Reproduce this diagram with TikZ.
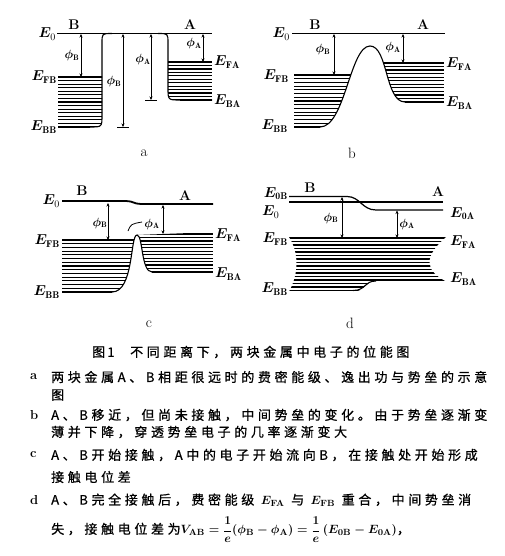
\documentclass[tikz,border=0pt]{standalone}
\usepackage{amsmath,bm}
\usepackage{fontspec}
\newfontfamily\cjk[LetterSpace=28,FakeBold=0.8]{Noto Sans CJK SC}
\usetikzlibrary{arrows.meta}

\begin{document}
\begin{tikzpicture}[x=1pt,y=-1pt,
  >={Stealth[length=3.5pt,width=3pt]},
  lvl/.style={line width=1.2pt},
  wall/.style={line width=1.1pt},
  band/.style={line width=1.2pt},
  phi/.style={<->,line width=0.5pt},
  bar/.style={line width=0.9pt},
  elab/.style={font=\fontsize{14}{16}\selectfont,inner sep=0pt},
  mlab/.style={font=\fontsize{14}{16}\selectfont\bfseries,inner sep=0pt},
  plab/.style={font=\fontsize{12}{14}\selectfont,inner sep=0pt},
  panel/.style={font=\fontsize{15}{17}\selectfont,inner sep=0pt},
  capline/.style={font=\fontsize{13}{16}\selectfont\cjk\boldmath,inner sep=0pt,anchor=west},
  tag/.style={font=\fontsize{13}{16}\selectfont\bfseries,inner sep=0pt,anchor=west}
]
\useasboundingbox (0,0) rectangle (505,556);

%% panel a: far apart
\draw[lvl] (57,33.5) -- (212,33.5);
\begin{scope}
  \clip (55,74) -- (102,74) -- (102,115) .. controls (102,127) .. (90,127) -- (90,129) -- (55,129) -- cycle;
  \foreach \i in {0,...,14} \draw[band] (58,{77+\i*50/14}) -- (105,{77+\i*50/14});
\end{scope}
\begin{scope}
  \clip (168,59) -- (168,88) .. controls (168,100) .. (180,100) -- (180,102) -- (214,102) -- (214,59) -- cycle;
  \foreach \i in {0,...,11} \draw[band] (166,{62+\i*38/11}) -- (212,{62+\i*38/11});
\end{scope}
\draw[wall] (112,33.5) .. controls (102,33.5) .. (102,43) -- (102,115) .. controls (102,127) .. (90,127);
\draw[wall] (158,33.5) .. controls (168,33.5) .. (168,43) -- (168,88) .. controls (168,100) .. (180,100) -- (212,100);
\draw[phi] (81,34) -- (81,77);
\draw[phi] (123,34) -- (123,127);
\draw[bar] (117,127) -- (129,127);
\draw[phi] (151,34) -- (151,100);
\draw[bar] (145,100) -- (157,100);
\draw[phi] (203,34) -- (203,62);
\node[elab,anchor=east] (Ea0) at (56,34) {$\bm{E}_0$};
\node[mlab] (Ba) at (74,25) {B};
\node[mlab] (Aa) at (190,25) {A};
\node[elab,anchor=east] (EaFB) at (57,77) {$\bm{E}_{\mathbf{FB}}$};
\node[elab,anchor=east] (EaBB) at (57,127) {$\bm{E}_{\mathbf{BB}}$};
\node[elab,anchor=west] (EaFA) at (214,62) {$\bm{E}_{\mathbf{FA}}$};
\node[elab,anchor=west] (EaBA) at (214,101) {$\bm{E}_{\mathbf{BA}}$};
\node[plab] (phaB) at (72,56) {$\bm{\phi}_{\mathbf{B}}$};
\node[plab] (phaBm) at (114,82) {$\bm{\phi}_{\mathbf{B}}$};
\node[plab] (phaAm) at (143,60) {$\bm{\phi}_{\mathbf{A}}$};
\node[plab] (phaA) at (194,44) {$\bm{\phi}_{\mathbf{A}}$};
\node[panel] (pa) at (144,153) {a};

%% panel b: moving closer
\draw[lvl] (292,33.5) -- (445,33.5);
\begin{scope}
  \clip (290,129) -- (320,129) -- (320,127) .. controls (345,127) and (350,46) .. (370,46) -- (290,46) -- cycle;
  \foreach \i in {0,...,14} \draw[band] (294,{75+\i*52/14}) -- (375,{75+\i*52/14});
\end{scope}
\begin{scope}
  \clip (370,46) .. controls (388,46) and (385,102) .. (405,102) -- (405,104) -- (450,104) -- (450,46) -- cycle;
  \foreach \i in {0,...,11} \draw[band] (372,{63+\i*39/11}) -- (444,{63+\i*39/11});
\end{scope}
\draw[wall] (320,127) .. controls (345,127) and (350,46) .. (370,46) .. controls (388,46) and (385,102) .. (405,102);
\draw[phi] (334,34) -- (334,75);
\draw[phi] (403,34) -- (403,63);
\node[elab,anchor=east] (Eb0) at (290,34) {$\bm{E}_0$};
\node[mlab] (Bb) at (315,25) {B};
\node[mlab] (Ab) at (423,25) {A};
\node[elab,anchor=east] (EbFB) at (289,76) {$\bm{E}_{\mathbf{FB}}$};
\node[elab,anchor=east] (EbBB) at (288,126) {$\bm{E}_{\mathbf{BB}}$};
\node[elab,anchor=west] (EbFA) at (446,64) {$\bm{E}_{\mathbf{FA}}$};
\node[elab,anchor=west] (EbBA) at (446,103) {$\bm{E}_{\mathbf{BA}}$};
\node[plab] (phbB) at (323,50) {$\bm{\phi}_{\mathbf{B}}$};
\node[plab] (phbA) at (393,48) {$\bm{\phi}_{\mathbf{A}}$};
\node[panel] (pb) at (352,153) {b};

%% panel c: first contact
\draw[lvl,line width=1.8pt] (62,201) -- (126,201) .. controls (133,201) and (134,204) .. (141,204) -- (213,204);
\begin{scope}
  \clip (60,294) -- (112,294) -- (112,292) .. controls (134,292) and (130,235) .. (137,235) -- (60,235) -- cycle;
  \foreach \i in {0,...,14} \draw[band] (62,{240+\i*52/14}) -- (140,{240+\i*52/14});
\end{scope}
\begin{scope}
  \clip (137,235) .. controls (143,235) and (141,272) .. (152,272) -- (152,274) -- (216,274) -- (216,232) -- cycle;
  \foreach \i in {0,...,11} \draw[band] (137,{234+\i*38/11}) -- (213,{234+\i*38/11});
\end{scope}
\draw[wall] (112,292) .. controls (134,292) and (130,235) .. (137,235) .. controls (143,235) and (141,272) .. (152,272);
\draw[line width=0.8pt] (128,231) .. controls (131,224) .. (142,222);
\draw[phi] (108,203) -- (108,240);
\draw[phi] (163,205) -- (163,234);
\node[elab,anchor=east] (Ec0) at (60,201) {$\bm{E}_0$};
\node[mlab] (Bc) at (82,191) {B};
\node[mlab] (Ac) at (185,196) {A};
\node[elab,anchor=east] (EcFB) at (60,241) {$\bm{E}_{\mathbf{FB}}$};
\node[elab,anchor=east] (EcBB) at (60,292) {$\bm{E}_{\mathbf{BB}}$};
\node[elab,anchor=west] (EcFA) at (215,235) {$\bm{E}_{\mathbf{FA}}$};
\node[elab,anchor=west] (EcBA) at (215,274) {$\bm{E}_{\mathbf{BA}}$};
\node[plab] (phcB) at (100,223) {$\bm{\phi}_{\mathbf{B}}$};
\node[plab] (phcA) at (152,224) {$\bm{\phi}_{\mathbf{A}}$};
\node[panel] (pc) at (149,324) {c};

%% panel d: full contact
\draw[lvl] (289,196.5) -- (347,196.5) .. controls (360,196.5) and (362,210) .. (376,210) -- (443,210);
\draw[lvl] (289,202) -- (443,202);
\begin{scope}
  \clip (289,237) -- (446,237) .. controls (424,256) and (424,270) .. (446,281.5) -- (375,281.5)
        .. controls (364,281.5) and (366,291.5) .. (353,291.5) -- (289,291.5)
        .. controls (299,274) and (299,252) .. (289,237) -- cycle;
  \foreach \i in {0,...,15} \draw[band] (285,{238+\i*3.5}) -- (450,{238+\i*3.5});
\end{scope}
\draw[wall] (353,290.5) .. controls (366,290.5) and (364,281) .. (376,281);
\draw[phi] (342,197) -- (342,238);
\draw[phi] (397,210.5) -- (397,238);
\node[elab,anchor=east] (Ed0B) at (288,194) {$\bm{E}_{\mathbf{0B}}$};
\node[elab,anchor=west] (Ed0) at (262,212) {$\bm{E}_0$};
\node[elab,anchor=west] (Ed0A) at (450,214) {$\bm{E}_{\mathbf{0A}}$};
\node[mlab] (Bd) at (310,188) {B};
\node[mlab] (Ad) at (438,192) {A};
\node[elab,anchor=east] (EdFB) at (288,239) {$\bm{E}_{\mathbf{FB}}$};
\node[elab,anchor=east] (EdBB) at (288,289) {$\bm{E}_{\mathbf{BB}}$};
\node[elab,anchor=west] (EdFA) at (450,242) {$\bm{E}_{\mathbf{FA}}$};
\node[elab,anchor=west] (EdBA) at (450,279) {$\bm{E}_{\mathbf{BA}}$};
\node[plab] (phdB) at (331,218) {$\bm{\phi}_{\mathbf{B}}$};
\node[plab] (phdA) at (407,224) {$\bm{\phi}_{\mathbf{A}}$};
\node[panel] (pd) at (350,323) {d};

%% caption
\node[capline] (ttl) at (92,352) {图\,1\hspace{1.2em}不同距离下，两块金属中电子的位能图};
\node[tag] (ka) at (30,377) {a};
\node[capline] (ta1) at (51,377) {两块金属A、B相距很远时的费密能级、逸出功与势垒的示意};
\node[capline] (ta2) at (51,395) {图};
\node[tag] (kb) at (30,415) {b};
\node[capline] (tb1) at (51,415) {A、B移近，但尚未接触，中间势垒的变化。由于势垒逐渐变};
\node[capline] (tb2) at (51,432) {薄并下降，穿透势垒电子的几率逐渐变大};
\node[tag] (kc) at (30,455) {c};
\node[capline] (tc1) at (51,455) {A、B开始接触，A中的电子开始流向B，在接触处开始形成};
\node[capline] (tc2) at (51,477) {接触电位差};
\node[tag] (kd) at (30,500) {d};
\node[capline] (td1) at (51,500) {A、B完全接触后，费密能级 $E_{\mathbf{FA}}$ 与 $E_{\mathbf{FB}}$ 重合，中间势垒消};
\node[capline] (td2) at (51,530) {失，接触电位差为$V_{\mathbf{AB}}=\dfrac{1}{e}(\phi_{\mathbf{B}}-\phi_{\mathbf{A}})=\dfrac{1}{e}\,(E_{0\mathbf{B}}-E_{0\mathbf{A}})$，};
\end{tikzpicture}
\end{document}
